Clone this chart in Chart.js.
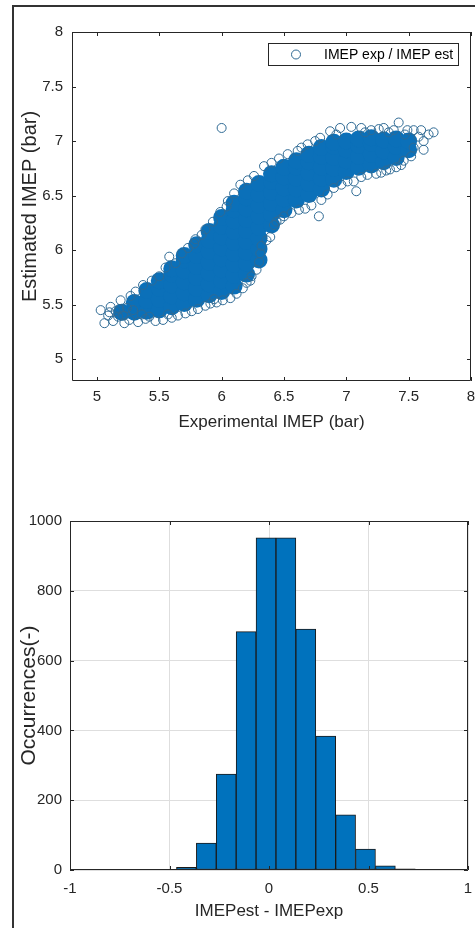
<!DOCTYPE html>
<html>
<head>
<meta charset="utf-8">
<script src="https://cdn.jsdelivr.net/npm/chart.js@4.4.1/dist/chart.umd.min.js"></script>
<style>
    body { margin: 0; background: #fff; width: 475px; height: 928px; overflow: hidden; position: relative; }
    #frame { position: absolute; left: 12px; top: 5px; right: -5px; bottom: -5px; border-left: 2px solid #333; border-top: 2px solid #333; }
    canvas { position: absolute; left: 0; }
    #scatter { top: 0; }
    #hist { top: 465px; }
</style>
</head>
<body>
<div id="frame"></div>
<canvas id="scatter" width="475" height="465"></canvas>
<canvas id="hist" width="475" height="463"></canvas>
<script>
// Streudiagramm: dichter Kern der Punktwolke (x = IMEP exp, y = IMEP est)
const coreCloud = [
    [5.2, 5.43],
    [5.3, 5.43], [5.3, 5.52],
    [5.4, 5.44], [5.4, 5.54], [5.4, 5.63],
    [5.5, 5.45], [5.5, 5.55], [5.5, 5.65], [5.5, 5.72],
    [5.6, 5.48], [5.6, 5.58], [5.6, 5.68], [5.6, 5.78], [5.6, 5.83],
    [5.7, 5.51], [5.7, 5.61], [5.7, 5.71], [5.7, 5.81], [5.7, 5.91], [5.7, 5.95],
    [5.8, 5.55], [5.8, 5.65], [5.8, 5.75], [5.8, 5.85], [5.8, 5.95], [5.8, 6.05],
    [5.9, 5.59], [5.9, 5.69], [5.9, 5.79], [5.9, 5.89], [5.9, 5.99], [5.9, 6.09], [5.9, 6.17],
    [6.0, 5.62], [6.0, 5.72], [6.0, 5.82], [6.0, 5.92], [6.0, 6.02], [6.0, 6.12], [6.0, 6.22], [6.0, 6.30],
    [6.1, 5.67], [6.1, 5.77], [6.1, 5.87], [6.1, 5.97], [6.1, 6.07], [6.1, 6.17], [6.1, 6.27], [6.1, 6.37], [6.1, 6.43],
    [6.2, 5.78], [6.2, 5.88], [6.2, 5.98], [6.2, 6.08], [6.2, 6.18], [6.2, 6.28], [6.2, 6.38], [6.2, 6.48], [6.2, 6.54],
    [6.3, 5.91], [6.3, 6.01], [6.3, 6.11], [6.3, 6.21], [6.3, 6.31], [6.3, 6.41], [6.3, 6.51], [6.3, 6.61],
    [6.4, 6.23], [6.4, 6.33], [6.4, 6.43], [6.4, 6.53], [6.4, 6.63], [6.4, 6.70],
    [6.5, 6.37], [6.5, 6.47], [6.5, 6.57], [6.5, 6.67], [6.5, 6.76],
    [6.6, 6.46], [6.6, 6.56], [6.6, 6.66], [6.6, 6.76], [6.6, 6.82],
    [6.7, 6.51], [6.7, 6.61], [6.7, 6.71], [6.7, 6.81], [6.7, 6.88],
    [6.8, 6.56], [6.8, 6.66], [6.8, 6.76], [6.8, 6.86], [6.8, 6.94],
    [6.9, 6.65], [6.9, 6.75], [6.9, 6.85], [6.9, 6.95], [6.9, 6.99],
    [7.0, 6.72], [7.0, 6.82], [7.0, 6.92], [7.0, 7.00],
    [7.1, 6.76], [7.1, 6.86], [7.1, 6.96], [7.1, 7.02],
    [7.2, 6.78], [7.2, 6.88], [7.2, 6.98], [7.2, 7.03],
    [7.3, 6.81], [7.3, 6.91], [7.3, 7.01],
    [7.4, 6.85], [7.4, 6.95], [7.4, 7.02],
    [7.5, 6.92], [7.5, 7.00]
];

// einzelne Kreise am Rand der Wolke und Ausreisser
const looseCircles = [
    [5.03, 5.45], [5.06, 5.33], [5.09, 5.40], [5.11, 5.48], [5.13, 5.35], [5.17, 5.39],
    [5.19, 5.54], [5.22, 5.33], [5.26, 5.36], [5.27, 5.58], [5.31, 5.62], [5.33, 5.34],
    [5.37, 5.68], [5.39, 5.37], [5.44, 5.72], [5.47, 5.35], [5.50, 5.76], [5.53, 5.36],
    [5.55, 5.84], [5.58, 5.94], [5.60, 5.38], [5.63, 5.88], [5.65, 5.40], [5.68, 5.97],
    [5.71, 5.42], [5.73, 6.02], [5.76, 5.44], [5.79, 6.10], [5.81, 5.46], [5.84, 6.14],
    [5.87, 5.49], [5.87, 6.19], [5.91, 5.51], [5.93, 6.26], [5.96, 5.52], [5.99, 6.35],
    [6.01, 5.54], [6.05, 6.45], [6.07, 5.56], [6.10, 6.52], [6.12, 5.60], [6.15, 6.60],
    [6.17, 5.65], [6.21, 6.64], [6.20, 5.70], [6.24, 5.76], [6.26, 6.68], [6.28, 5.82],
    [6.30, 5.89], [6.31, 5.97], [6.34, 6.77], [6.32, 6.04], [6.39, 6.12], [6.40, 6.80],
    [6.42, 6.23], [6.46, 6.84], [6.47, 6.28], [6.50, 6.31], [6.53, 6.88], [6.56, 6.34],
    [6.61, 6.91], [6.62, 6.37], [6.67, 6.38], [6.69, 6.97], [6.72, 6.41], [6.75, 7.00],
    [6.78, 6.31], [6.79, 7.03], [6.80, 6.46], [6.85, 6.51], [6.87, 7.09], [6.90, 6.57],
    [6.95, 7.12], [6.96, 6.60], [7.01, 6.63], [7.04, 7.13], [7.06, 6.63], [7.08, 6.54],
    [7.12, 7.12], [7.12, 6.67], [7.17, 6.69], [7.20, 7.10], [7.24, 6.70], [7.28, 6.71],
    [7.30, 7.12], [7.34, 7.08], [7.35, 6.74], [7.40, 6.76], [7.42, 7.17], [7.44, 6.78],
    [7.47, 7.06], [7.49, 7.10], [7.52, 6.86], [7.54, 7.10], [7.54, 6.94], [7.58, 7.04],
    [7.60, 7.10], [7.62, 7.00], [7.62, 6.92], [7.66, 7.06], [7.70, 7.08], [6.00, 7.12],
    [5.15, 5.44], [5.24, 5.47], [5.36, 5.41], [5.42, 5.39], [5.57, 5.41], [5.78, 6.06],
    [5.94, 5.55], [6.04, 6.40], [6.23, 5.72], [6.36, 6.09], [6.44, 6.26], [6.64, 6.94],
    [6.92, 7.06], [7.15, 7.08], [7.26, 7.11], [7.38, 7.10], [7.32, 6.73], [7.46, 6.82],
    [5.10, 5.43], [5.18, 5.46], [5.21, 5.40], [5.29, 5.45]
];

const scatterXTicks = [5, 5.5, 6, 6.5, 7, 7.5, 8];
const scatterYTicks = [5, 5.5, 6, 6.5, 7, 7.5, 8];

// Histogramm der Abweichung IMEPest - IMEPexp (Klassenbreite 0.1)
const binCenters = [-0.415, -0.315, -0.215, -0.115, -0.015, 0.085, 0.185, 0.285, 0.385, 0.485, 0.585, 0.685];
const binCounts = [8, 77, 275, 683, 952, 952, 690, 384, 158, 60, 12, 3];
const histXTicks = [-1, -0.5, 0, 0.5, 1];
const histYTicks = [0, 200, 400, 600, 800, 1000];

const FONT = '"Liberation Sans", Arial, Helvetica, sans-serif';
const AXIS = '#262626';

// Rahmen und Ticks nach innen (wie MATLAB "box on")
const matlabBox = {
    id: 'matlabBox',
    afterDatasetsDraw(chart) {
        const { ctx, chartArea: a, scales } = chart;
        const len = 4;
        ctx.save();
        ctx.strokeStyle = AXIS;
        ctx.lineWidth = 1;
        ctx.beginPath();
        ctx.rect(Math.round(a.left) + 0.5, Math.round(a.top) + 0.5,
            Math.round(a.right - a.left) - 1, Math.round(a.bottom - a.top) - 1);
        scales.x.ticks.forEach(t => {
            const px = Math.round(scales.x.getPixelForValue(t.value)) + 0.5;
            ctx.moveTo(px, a.bottom); ctx.lineTo(px, a.bottom - len);
            ctx.moveTo(px, a.top); ctx.lineTo(px, a.top + len);
        });
        scales.y.ticks.forEach(t => {
            const py = Math.round(scales.y.getPixelForValue(t.value)) + 0.5;
            ctx.moveTo(a.left, py); ctx.lineTo(a.left + len, py);
            ctx.moveTo(a.right, py); ctx.lineTo(a.right - len, py);
        });
        ctx.stroke();
        ctx.restore();
    }
};

// Legende innerhalb der Achsen, oben rechts
const insideLegend = {
    id: 'insideLegend',
    afterDraw(chart) {
        const ds = chart.data.datasets[0];
        const { ctx, chartArea: a } = chart;
        ctx.save();
        ctx.font = '14px ' + FONT;
        const w = ctx.measureText(ds.label).width;
        const boxW = Math.round(w + 62);
        const boxH = 23;
        const right = Math.round(a.right) - 12;
        const top = Math.round(a.top) + 11;
        const left = right - boxW;
        ctx.fillStyle = '#fff';
        ctx.fillRect(left, top, boxW, boxH);
        ctx.strokeStyle = AXIS;
        ctx.lineWidth = 1;
        ctx.strokeRect(left + 0.5, top + 0.5, boxW - 1, boxH - 1);
        ctx.beginPath();
        ctx.arc(left + 28, top + boxH / 2, 4.5, 0, Math.PI * 2);
        ctx.strokeStyle = ds.borderColor;
        ctx.stroke();
        ctx.fillStyle = '#000';
        ctx.textBaseline = 'middle';
        ctx.fillText(ds.label, left + 56, top + boxH / 2 + 1);
        ctx.restore();
    }
};

new Chart(document.getElementById('scatter'), {
    type: 'scatter',
    data: {
        datasets: [{
            label: 'IMEP exp / IMEP est',
            data: looseCircles.map(p => ({ x: p[0], y: p[1] })),
            pointRadius: 4.5,
            borderWidth: 1,
            borderColor: '#2f6a94',
            backgroundColor: 'rgba(0,0,0,0)'
        }, {
            label: 'core',
            data: coreCloud.map(p => ({ x: p[0], y: p[1] })),
            pointRadius: 8.5,
            borderWidth: 0,
            backgroundColor: '#0b70b9'
        }]
    },
    options: {
        responsive: false,
        animation: false,
        layout: { autoPadding: false, padding: { top: 32, right: 4, left: 0, bottom: 0 } },
        plugins: { legend: { display: false }, tooltip: { enabled: false } },
        scales: {
            x: {
                type: 'linear', min: 4.8, max: 8,
                afterBuildTicks: s => { s.ticks = scatterXTicks.map(v => ({ value: v })); },
                afterFit: s => { s.height = 84; s.paddingLeft = 0; s.paddingRight = 0; },
                grid: { display: false, drawTicks: false },
                border: { display: false },
                ticks: { padding: 7, color: AXIS, maxRotation: 0, autoSkip: false, font: { family: FONT, size: 15 }, callback: v => String(v) },
                title: { display: true, text: 'Experimental IMEP (bar)', color: AXIS, font: { family: FONT, size: 17 }, padding: { top: 0, bottom: 32 } }
            },
            y: {
                type: 'linear', min: 4.8, max: 8,
                afterBuildTicks: s => { s.ticks = scatterYTicks.map(v => ({ value: v })); },
                afterFit: s => { s.width = 72; s.paddingTop = 0; s.paddingBottom = 0; },
                grid: { display: false, drawTicks: false },
                border: { display: false },
                ticks: { padding: 9, color: AXIS, autoSkip: false, font: { family: FONT, size: 15 }, callback: v => String(v) },
                title: { display: true, text: 'Estimated IMEP (bar)', color: AXIS, font: { family: FONT, size: 20 }, padding: { top: 18, bottom: 0 } }
            }
        }
    },
    plugins: [matlabBox, insideLegend]
});

new Chart(document.getElementById('hist'), {
    type: 'bar',
    data: {
        datasets: [{
            label: 'Occurrences',
            data: binCenters.map((x, i) => ({ x: x, y: binCounts[i] })),
            backgroundColor: '#0072bd',
            borderColor: '#1a1a1a',
            borderWidth: 1,
            borderSkipped: false,
            barPercentage: 1,
            categoryPercentage: 1
        }]
    },
    options: {
        responsive: false,
        animation: false,
        layout: { autoPadding: false, padding: { top: 56, right: 7, left: 0, bottom: 0 } },
        plugins: { legend: { display: false }, tooltip: { enabled: false } },
        scales: {
            x: {
                type: 'linear', min: -1, max: 1, offset: false,
                afterBuildTicks: s => { s.ticks = histXTicks.map(v => ({ value: v })); },
                afterFit: s => { s.height = 58; s.paddingLeft = 0; s.paddingRight = 0; },
                grid: { color: '#dedede', drawTicks: false, offset: false },
                border: { display: false },
                ticks: { padding: 10, color: AXIS, maxRotation: 0, autoSkip: false, font: { family: FONT, size: 15 }, callback: v => String(v) },
                title: { display: true, text: 'IMEPest - IMEPexp', color: AXIS, font: { family: FONT, size: 17 }, padding: { top: 0, bottom: 6 } }
            },
            y: {
                type: 'linear', min: 0, max: 1000,
                afterBuildTicks: s => { s.ticks = histYTicks.map(v => ({ value: v })); },
                afterFit: s => { s.width = 70; s.paddingTop = 0; s.paddingBottom = 0; },
                grid: { color: '#dedede', drawTicks: false },
                border: { display: false },
                ticks: { padding: 8, color: AXIS, autoSkip: false, font: { family: FONT, size: 15 }, callback: v => String(v) },
                title: { display: true, text: 'Occurrences(-)', color: AXIS, font: { family: FONT, size: 21 }, padding: { top: 17, bottom: 0 } }
            }
        }
    },
    plugins: [matlabBox]
});
</script>
</body>
</html>
